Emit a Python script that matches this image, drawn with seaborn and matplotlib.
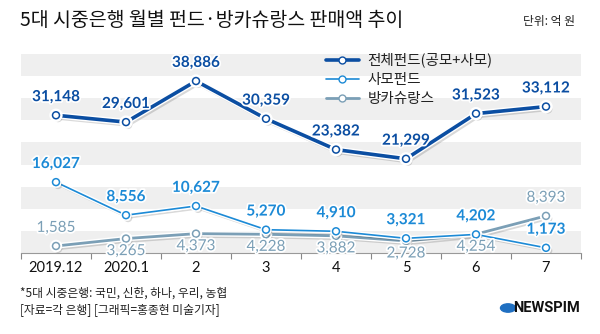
import matplotlib
matplotlib.use("Agg")
import matplotlib.pyplot as plt
import matplotlib.patheffects as pe
import seaborn as sns
import pandas as pd
import numpy as np

months = ["2019.12", "2020.1", "2", "3", "4", "5", "6", "7"]
total_fund = [31148, 29601, 38886, 30359, 23382, 21299, 31523, 33112]
private_fund = [16027, 8556, 10627, 5270, 4910, 3321, 4202, 1173]
bancassurance = [1585, 3265, 4373, 4228, 3882, 2728, 4254, 8393]
series_names = ["전체펀드(공모+사모)", "사모펀드", "방카슈랑스"]
series_values = [total_fund, private_fund, bancassurance]
label_above = [
    [True] * 8,
    [True] * 8,
    [True, False, False, False, False, False, False, True],
]

colors = ["#0b4ea2", "#1c8ad6", "#7b9fb6"]
widths = [2.6, 1.2, 2.0]

sns.set_theme(style="white")
plt.rcParams["font.family"] = ["Lato", "Noto Sans CJK KR", "DejaVu Sans"]

rows = []
for name, vals in zip(series_names, series_values):
    for i, v in enumerate(vals):
        rows.append({"x": i, "month": months[i], "value": v, "series": name})
df = pd.DataFrame(rows)

fig = plt.figure(figsize=(6.0, 3.34), dpi=100)
ax = fig.add_axes([21 / 600, 1 - 253 / 334, 560 / 600, 199 / 334])

# background bands
for k in range(9):
    if k % 2 == 0:
        ax.axhspan(k * 5000, (k + 1) * 5000, color="#efefef", lw=0, zorder=0)

sns.lineplot(data=df, x="x", y="value", hue="series", hue_order=series_names,
             palette=colors, marker="o", ax=ax, legend=False, sort=False)

lines = ax.get_lines()
order = [2, 1, 0]
for idx, ln in enumerate(lines[:3]):
    ln.set_linewidth(widths[idx])
    ln.set_markersize(5)
    ln.set_markerfacecolor("white")
    ln.set_markeredgecolor(colors[idx])
    ln.set_markeredgewidth(1.1)
    ln.set_path_effects([
        pe.SimpleLineShadow(offset=(1.5, -2), shadow_color="#000000", alpha=0.15, rho=1.0),
        pe.Stroke(linewidth=widths[idx] + 2, foreground="white"),
        pe.Normal(),
    ])
    ln.set_zorder(3 + order[idx])

# value labels
for s, (vals, ab) in enumerate(zip(series_values, label_above)):
    for i, v in enumerate(vals):
        off = 8 if ab[i] else -4
        va = "bottom" if ab[i] else "top"
        ax.annotate(f"{v:,}", (i, v), xytext=(0, off), textcoords="offset points",
                    ha="center", va=va, fontsize=11, color=colors[s],
                    fontweight="bold" if s < 2 else "normal",
                    family=["Lato", "DejaVu Sans"], zorder=10,
                    path_effects=[pe.withStroke(linewidth=2.5, foreground="white")])

ax.set_xlim(-0.5, 7.5)
ax.set_ylim(0, 45000)
ax.set_yticks([])
ax.set_xticks(np.arange(-0.5, 8.0, 1.0), minor=False)
ax.set_xticklabels([])
ax.set_xticks(np.arange(8), minor=True)
ax.set_xticklabels(months, minor=True, fontsize=10.5, color="#111111",
                   family=["Lato", "DejaVu Sans"])
ax.tick_params(axis="x", which="major", length=4, width=0.8, color="#888888",
               direction="out", bottom=True)
ax.tick_params(axis="x", which="minor", length=0, pad=6)
ax.set_xlabel("")
ax.set_ylabel("")
for sp in ["top", "right", "left"]:
    ax.spines[sp].set_visible(False)
ax.spines["bottom"].set_color("#999999")
ax.spines["bottom"].set_linewidth(0.8)

# legend
from matplotlib.lines import Line2D
handles = [Line2D([0], [0], color=colors[i], lw=widths[i], marker="o", markersize=5,
                  markerfacecolor="white", markeredgecolor=colors[i])
           for i in range(3)]
leg = ax.legend(handles, series_names, loc="upper left", bbox_to_anchor=(0.535, 1.035),
                frameon=False, fontsize=10.5, handlelength=2.2, handletextpad=0.6,
                labelspacing=0.35, borderaxespad=0)
for t in leg.get_texts():
    t.set_family(["Noto Sans CJK KR", "DejaVu Sans"])
    t.set_color("#222222")

kr = ["Noto Sans CJK KR", "DejaVu Sans"]
fig.text(20 / 600, 1 - 20 / 334, "5대 시중은행 월별 펀드·방카슈랑스 판매액 추이",
         fontsize=14, family=kr, color="#111111", va="center", ha="left")
fig.text(575 / 600, 1 - 21 / 334, "단위: 억 원", fontsize=8.5, family=kr,
         color="#222222", va="center", ha="right")
fig.text(20 / 600, 1 - 293 / 334, "*5대 시중은행: 국민, 신한, 하나, 우리, 농협",
         fontsize=8.5, family=kr, color="#222222", va="center", ha="left")
fig.text(20 / 600, 1 - 310 / 334, "[자료=각 은행] [그래픽=홍종현 미술기자]",
         fontsize=8.5, family=kr, color="#222222", va="center", ha="left")

# logo
fig.patches.append(plt.Circle((508 / 600, 1 - 308 / 334), 7.5 / 600,
                              transform=fig.transFigure, color="#1f6fc1"))
fig.text(580 / 600, 1 - 308 / 334, "NEWSPIM", fontsize=10.5, fontweight="bold",
         family=["Roboto", "DejaVu Sans"], color="#111111", va="center", ha="right")

fig.savefig("out.png", dpi=100)
